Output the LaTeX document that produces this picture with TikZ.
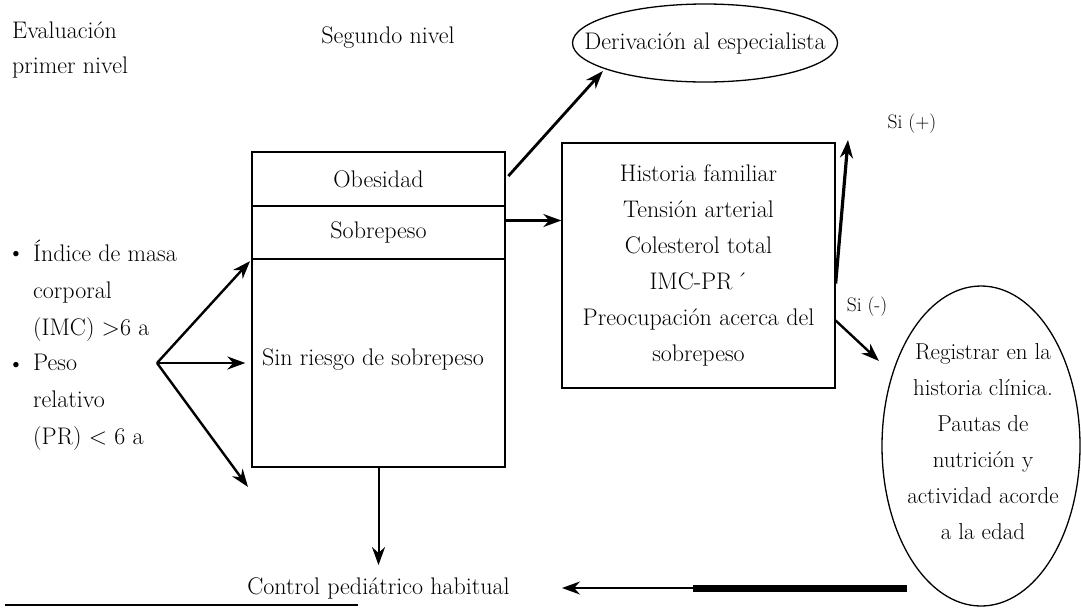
\documentclass[tikz,border=0pt]{standalone}
\usepackage{fontspec}
\usetikzlibrary{arrows.meta,shapes.geometric}
\begin{document}
\begin{tikzpicture}[x=1pt,y=-1pt,
  every node/.style={font=\fontsize{24}{36}\selectfont, inner sep=2pt},
  box/.style={draw, line width=1.3pt, inner sep=0pt},
  oval/.style={ellipse, draw, line width=1.3pt, inner sep=0pt},
  arr/.style={-{Stealth[length=18pt,width=13pt]}, line width=2.4pt},
  small/.style={font=\fontsize{19.5}{22}\selectfont},
  leftlist/.style={anchor=west, align=left, font=\fontsize{24}{37}\selectfont}]
\useasboundingbox (0,0) rectangle (1081,614);

% titles
\node[anchor=west] (ev1) at (10,30) {Evaluación};
\node[anchor=west] (ev2) at (10,68) {primer nivel};
\node (seg) at (388,38) {Segundo nivel};

% referral ellipse
\node[oval, minimum width=265pt, minimum height=78pt] (der) at (705,43) {};
\node (dert) at (der.center) {Derivación al especialista};

% main classification box
\node[box, minimum width=253pt, minimum height=54pt] (obes) at (378.5,179) {Obesidad};
\node[box, minimum width=253pt, minimum height=53pt] (sobre) at (378.5,232.5) {Sobrepeso};
\node[box, minimum width=253pt, minimum height=208pt] (sin) at (378.5,363) {};
\node (sint) at (373,360) {Sin riesgo de sobrepeso};

% second level box
\node[box, minimum width=273pt, minimum height=245pt, align=center] (hist) at (698.5,265.5)
  {Historia familiar\\Tensión arterial\\Colesterol total\\IMC-PR\,´\\Preocupación acerca del\\sobrepeso};

% register ellipse
\node[oval, minimum width=198pt, minimum height=320pt] (reg) at (981,446) {};
\node[align=center, font=\fontsize{23}{36}\selectfont] (regt) at (983,442) {Registrar en la\\historia clínica.\\Pautas de\\nutrición y\\actividad acorde\\a la edad};

% labels
\node[small] (sip) at (912,124) {Si (+)};
\node[small] (sim) at (867,307) {Si (-)};
\node (ctrl) at (378.5,588) {Control pediátrico habitual};

% left list
\node (b1) at (16,256) {\textbullet};
\node[leftlist] (imc) at (31,291) {Índice de masa\\corporal\\(IMC) >6 a};
\node (b2) at (16,367) {\textbullet};
\node[leftlist] (pr) at (31,402) {Peso\\relativo\\(PR) < 6 a};

% fan arrows
\coordinate (fan) at (157,363);
\coordinate (lowtip) at (248,487);
\draw[arr, shorten >=2pt] (fan) -- (sobre.south west);
\draw[arr, shorten >=6pt] (fan) -- (sin.west);
\draw[arr] (fan) -- (lowtip);

% to referral
\draw[arr, line width=2.8pt, shorten <=4pt] (obes.east) -- ([xshift=-8pt]der.south west);

% to second level
\coordinate (sA) at ([yshift=12pt]sobre.east);
\draw[arr] (sA) -- (sA -| hist.west);

% Si (+)
\coordinate (pstart) at ([yshift=-18pt]hist.east);
\coordinate (ptip) at (848,140);
\draw[arr, line width=3.2pt] (pstart) -- (ptip);

% Si (-)
\coordinate (mstart) at ([yshift=-55pt]hist.east);
\coordinate (mtip) at (879,361);
\draw[arr] (mstart) -- (mtip);

% back to control
\coordinate (bstart) at (907,588);
\coordinate (bmid) at (693,588);
\coordinate (btip) at (562,588);
\draw[arr, line width=2pt] (bstart) -- (btip);
\draw[line width=7pt] (bstart) -- (bmid);

% down to control
\draw[arr, line width=2pt, shorten >=10pt] (sin.south) -- (ctrl.north);

% bottom rule
\coordinate (r1) at (5,605);
\coordinate (r2) at (358,605);
\draw[line width=1.5pt] (r1) -- (r2);
\end{tikzpicture}
\end{document}
